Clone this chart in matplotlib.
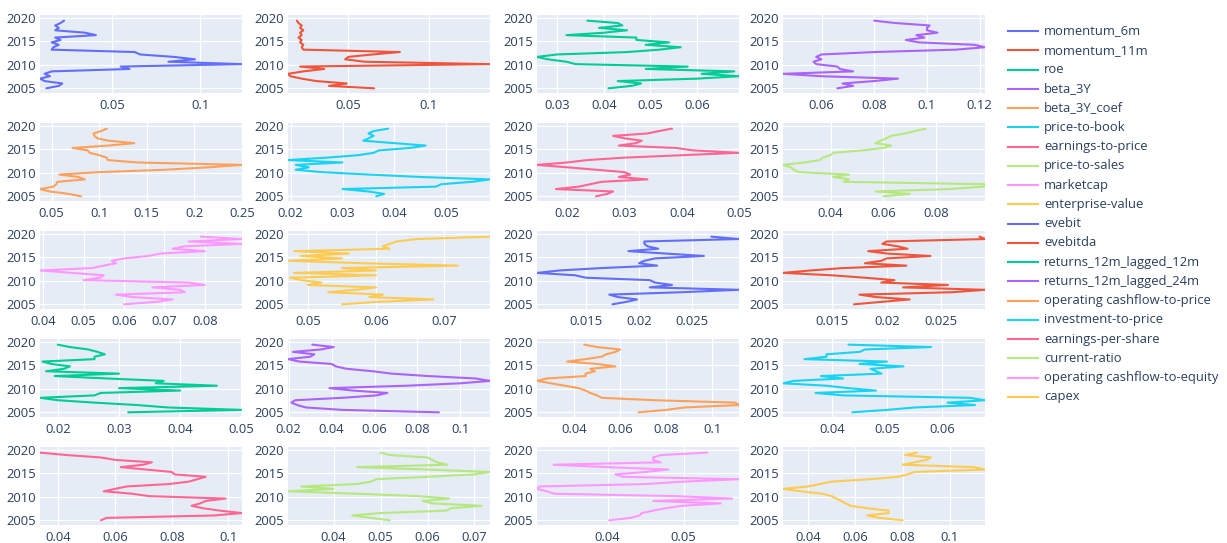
import math
import numpy as np
import matplotlib
matplotlib.use("Agg")
import matplotlib.pyplot as plt
from matplotlib.lines import Line2D

# Sampling dates (fractional years), shared by every factor series
years = np.linspace(2005.0, 2019.4, 29)

momentum_6m = [0.013, 0.020, 0.022, 0.012, 0.0094, 0.015, 0.012, 0.016, 0.060, 0.055,
               0.1236, 0.082, 0.097, 0.085, 0.066, 0.063, 0.016, 0.017, 0.020, 0.016,
               0.021, 0.018, 0.041, 0.035, 0.018, 0.020, 0.018, 0.021, 0.023]
momentum_11m = [0.066, 0.038, 0.049, 0.030, 0.021, 0.014, 0.0125, 0.022, 0.035, 0.020,
                0.138, 0.060, 0.048, 0.050, 0.065, 0.082, 0.022, 0.021, 0.022, 0.020,
                0.021, 0.019, 0.021, 0.020, 0.022, 0.020, 0.021, 0.019, 0.018]
roe = [0.041, 0.046, 0.048, 0.043, 0.060, 0.069, 0.061, 0.068, 0.049, 0.058,
       0.034, 0.032, 0.028, 0.0257, 0.030, 0.045, 0.052, 0.0565, 0.049, 0.054,
       0.047, 0.047, 0.032, 0.040, 0.045, 0.039, 0.044, 0.043, 0.0365]
beta_3y = [0.066, 0.072, 0.068, 0.080, 0.089, 0.060, 0.0454, 0.072, 0.067, 0.066,
           0.058, 0.057, 0.060, 0.058, 0.060, 0.080, 0.111, 0.122, 0.118, 0.097,
           0.092, 0.099, 0.096, 0.104, 0.100, 0.100, 0.101, 0.088, 0.080]
beta_3y_coef = [0.081, 0.068, 0.048, 0.0378, 0.052, 0.055, 0.056, 0.085, 0.078, 0.058,
                0.100, 0.170, 0.215, 0.2502, 0.140, 0.109, 0.108, 0.100, 0.090, 0.088,
                0.072, 0.110, 0.137, 0.110, 0.098, 0.095, 0.094, 0.102, 0.108]
price_to_book = [0.0365, 0.038, 0.035, 0.030, 0.048, 0.049, 0.055, 0.0584, 0.045, 0.035,
                 0.026, 0.021, 0.0235, 0.021, 0.030, 0.0195, 0.027, 0.033, 0.036, 0.037,
                 0.043, 0.046, 0.040, 0.034, 0.035, 0.036, 0.035, 0.036, 0.0388]
earnings_to_price = [0.025, 0.027, 0.028, 0.018, 0.022, 0.024, 0.026, 0.034, 0.029, 0.031,
                     0.030, 0.025, 0.020, 0.0147, 0.020, 0.0235, 0.030, 0.040, 0.050, 0.042,
                     0.039, 0.029, 0.032, 0.033, 0.030, 0.028, 0.034, 0.036, 0.0383]
price_to_sales = [0.060, 0.070, 0.057, 0.085, 0.098, 0.0985, 0.045, 0.047, 0.041, 0.047,
                  0.028, 0.026, 0.025, 0.022, 0.030, 0.036, 0.037, 0.040, 0.041, 0.052,
                  0.060, 0.063, 0.057, 0.059, 0.061, 0.063, 0.068, 0.072, 0.076]
marketcap = [0.060, 0.068, 0.072, 0.062, 0.058, 0.075, 0.074, 0.067, 0.080, 0.076,
             0.050, 0.054, 0.055, 0.047, 0.0392, 0.052, 0.055, 0.058, 0.057, 0.060,
             0.066, 0.069, 0.080, 0.072, 0.075, 0.0892, 0.076, 0.089, 0.079]
enterprise_value = [0.055, 0.060, 0.0684, 0.059, 0.061, 0.053, 0.057, 0.060, 0.050, 0.052,
                    0.049, 0.0474, 0.060, 0.048, 0.060, 0.055, 0.072, 0.058, 0.0471, 0.055,
                    0.049, 0.056, 0.048, 0.062, 0.061, 0.062, 0.063, 0.066, 0.0767]
evebit = [0.0175, 0.0188, 0.0198, 0.018, 0.0172, 0.024, 0.0294, 0.021, 0.0231, 0.0215,
          0.021, 0.015, 0.014, 0.0104, 0.0125, 0.0165, 0.0217, 0.020, 0.0205, 0.0215,
          0.0261, 0.0225, 0.019, 0.0218, 0.0208, 0.0205, 0.0205, 0.0294, 0.0268]
evebitda = [0.017, 0.0195, 0.0221, 0.019, 0.0175, 0.026, 0.029, 0.0215, 0.0256, 0.0195,
            0.0207, 0.018, 0.015, 0.0105, 0.013, 0.016, 0.0218, 0.018, 0.0195, 0.020,
            0.024, 0.020, 0.0183, 0.0219, 0.021, 0.0196, 0.020, 0.029, 0.0285]
returns_12m_lagged_12m = [0.0315, 0.0501, 0.038, 0.033, 0.026, 0.020, 0.0171, 0.026, 0.027, 0.040,
                          0.030, 0.046, 0.036, 0.0373, 0.028, 0.0195, 0.030, 0.0181, 0.021, 0.022,
                          0.019, 0.0175, 0.026, 0.026, 0.0277, 0.0265, 0.025, 0.022, 0.020]
returns_12m_lagged_24m = [0.090, 0.045, 0.028, 0.024, 0.0213, 0.023, 0.045, 0.061, 0.066, 0.050,
                          0.039, 0.075, 0.100, 0.1138, 0.107, 0.085, 0.068, 0.059, 0.047, 0.042,
                          0.040, 0.025, 0.0197, 0.030, 0.032, 0.022, 0.035, 0.041, 0.031]
operating_cf_to_price = [0.068, 0.080, 0.088, 0.1117, 0.110, 0.075, 0.052, 0.050, 0.047, 0.045,
                         0.042, 0.036, 0.030, 0.0239, 0.028, 0.045, 0.045, 0.049, 0.047, 0.058,
                         0.050, 0.037, 0.045, 0.052, 0.054, 0.058, 0.060, 0.050, 0.0444]
investment_to_price = [0.0437, 0.050, 0.055, 0.066, 0.061, 0.0678, 0.065, 0.042, 0.037, 0.048,
                       0.043, 0.039, 0.0311, 0.033, 0.042, 0.038, 0.049, 0.048, 0.047, 0.053,
                       0.045, 0.050, 0.035, 0.039, 0.039, 0.045, 0.046, 0.058, 0.043]
earnings_per_share = [0.055, 0.057, 0.095, 0.1048, 0.097, 0.091, 0.087, 0.090, 0.092, 0.099,
                      0.072, 0.066, 0.056, 0.060, 0.064, 0.079, 0.086, 0.089, 0.092, 0.081,
                      0.080, 0.071, 0.062, 0.070, 0.073, 0.060, 0.055, 0.043, 0.0335]
current_ratio = [0.052, 0.048, 0.044, 0.050, 0.064, 0.065, 0.0715, 0.061, 0.059, 0.0646,
                 0.058, 0.045, 0.0303, 0.040, 0.0331, 0.045, 0.048, 0.049, 0.060, 0.070,
                 0.0733, 0.060, 0.045, 0.0642, 0.062, 0.061, 0.060, 0.052, 0.050]
operating_cf_to_equity = [0.0402, 0.043, 0.0442, 0.0445, 0.046, 0.0476, 0.0498, 0.0549, 0.046, 0.0564,
                          0.049, 0.033, 0.032, 0.0307, 0.031, 0.045, 0.050, 0.0573, 0.042, 0.041,
                          0.045, 0.048, 0.040, 0.0329, 0.047, 0.046, 0.046, 0.047, 0.0531]
capex = [0.080, 0.070, 0.065, 0.074, 0.074, 0.065, 0.058, 0.056, 0.054, 0.052,
         0.050, 0.046, 0.037, 0.0294, 0.040, 0.045, 0.050, 0.066, 0.078, 0.082,
         0.085, 0.1148, 0.110, 0.080, 0.085, 0.090, 0.092, 0.081, 0.086]

factor_names = ["momentum_6m", "momentum_11m", "roe", "beta_3Y", "beta_3Y_coef",
                "price-to-book", "earnings-to-price", "price-to-sales", "marketcap",
                "enterprise-value", "evebit", "evebitda", "returns_12m_lagged_12m",
                "returns_12m_lagged_24m", "operating cashflow-to-price",
                "investment-to-price", "earnings-per-share", "current-ratio",
                "operating cashflow-to-equity", "capex"]
factor_values = [momentum_6m, momentum_11m, roe, beta_3y, beta_3y_coef, price_to_book,
                 earnings_to_price, price_to_sales, marketcap, enterprise_value, evebit,
                 evebitda, returns_12m_lagged_12m, returns_12m_lagged_24m,
                 operating_cf_to_price, investment_to_price, earnings_per_share,
                 current_ratio, operating_cf_to_equity, capex]
year_ticks = [2005, 2010, 2015, 2020]

palette = ["#636EFA", "#EF553B", "#00CC96", "#AB63FA", "#FFA15A",
           "#19D3F3", "#FF6692", "#B6E880", "#FF97FF", "#FECB52"]
TEXT = "#2a3f5f"
BG = "#E5ECF6"
FONT = ["Open Sans", "DejaVu Sans"]
FS = 9.4

W, H = 1227, 543
fig = plt.figure(figsize=(W / 100, H / 100), dpi=100)
fig.patch.set_facecolor("white")

col_left = [40, 288, 537, 783]
row_top = [15, 123, 231, 339, 447]
pw, ph = 202, 78


def nice_ticks(lo, hi, nticks=5):
    rough = (hi - lo) / nticks
    base = 10 ** math.floor(math.log10(rough))
    step = next(m * base for m in (1, 2, 5, 10) if m * base >= rough - 1e-15)
    first = math.ceil(lo / step - 1e-9) * step
    ticks = []
    v = first
    while v <= hi + 1e-12:
        ticks.append(round(v, 10))
        v += step
    return ticks


for i, (name, vals) in enumerate(zip(factor_names, factor_values)):
    r, c = divmod(i, 4)
    x0 = col_left[c] / W
    y0 = 1 - (row_top[r] + ph) / H
    ax = fig.add_axes([x0, y0, pw / W, ph / H])
    ax.set_facecolor(BG)
    color = palette[i % len(palette)]
    ax.plot(vals, years, color=color, lw=1.5, solid_joinstyle="round",
            solid_capstyle="round", zorder=3)
    lo, hi = min(vals), max(vals)
    ax.set_xlim(lo, hi)
    ax.set_ylim(2004.0, 2020.6)
    ax.set_xticks(nice_ticks(lo, hi))
    ax.set_xticklabels(["{:g}".format(t) for t in ax.get_xticks()])
    ax.set_yticks(year_ticks)
    ax.set_yticklabels([str(t) for t in year_ticks])
    ax.grid(True, color="white", lw=0.9, zorder=1)
    ax.set_axisbelow(True)
    for s in ax.spines.values():
        s.set_visible(False)
    ax.tick_params(length=0, labelcolor=TEXT, labelsize=FS)
    ax.tick_params(axis="y", pad=3)
    ax.tick_params(axis="x", pad=4)
    for lab in ax.get_xticklabels() + ax.get_yticklabels():
        lab.set_fontfamily(FONT)

# Legend column on the right
for i, name in enumerate(factor_names):
    yc = 1 - (31 + 19.26 * i) / H
    fig.add_artist(Line2D([1008 / W, 1038 / W], [yc, yc], color=palette[i % len(palette)],
                          lw=1.5, transform=fig.transFigure))
    fig.text(1044 / W, yc, name, color=TEXT, fontsize=FS, family=FONT,
             ha="left", va="center")

fig.savefig("out.png", dpi=100, facecolor="white")
